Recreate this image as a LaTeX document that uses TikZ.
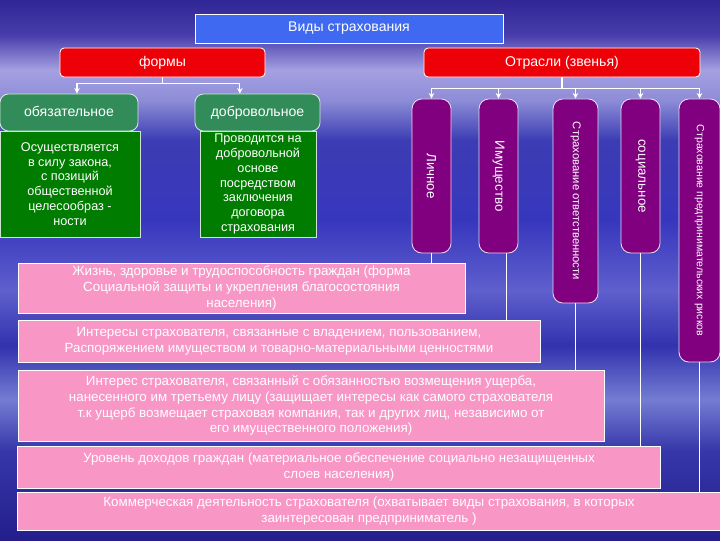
\documentclass[tikz,border=0pt]{standalone}
\usepackage{fontspec}
\setmainfont{Liberation Sans}
\usetikzlibrary{arrows.meta, positioning, calc}
\definecolor{myblue}{RGB}{62,105,240}
\definecolor{myred}{RGB}{238,0,8}
\definecolor{mygreen}{RGB}{50,140,90}
\definecolor{mydkgreen}{RGB}{0,125,0}
\definecolor{mypurple}{RGB}{128,0,128}
\definecolor{mypink}{RGB}{248,150,198}
\definecolor{sky0}{RGB}{35,30,140}
\definecolor{sky1}{RGB}{55,55,170}
\definecolor{sky2}{RGB}{115,125,210}
\definecolor{sky3}{RGB}{50,50,175}
\definecolor{sky4}{RGB}{95,95,205}
\definecolor{sky5}{RGB}{55,55,190}
\definecolor{sky6}{RGB}{60,60,180}
\definecolor{sky7}{RGB}{140,140,215}
\definecolor{sky8}{RGB}{165,160,225}
\definecolor{sky9}{RGB}{70,60,170}
\definecolor{sky10}{RGB}{48,38,150}
\pgfdeclareverticalshading{skybg}{100bp}{color(0bp)=(sky0); color(25bp)=(sky0);
  color(33.3bp)=(sky1); color(38bp)=(sky2); color(43bp)=(sky3); color(48.1bp)=(sky4);
  color(54.6bp)=(sky5); color(62bp)=(sky6); color(65.7bp)=(sky7); color(68.5bp)=(sky8);
  color(71.8bp)=(sky9); color(75bp)=(sky10); color(100bp)=(sky10)}
\tikzset{
  titlebox/.style={rectangle, draw=white, fill=myblue, text=white,
    minimum height=0.725cm, font=\fontsize{10}{12}\selectfont, line width=0.6pt},
  redbox/.style={rectangle, draw=white, fill=myred, text=white,
    minimum height=0.725cm, rounded corners=3pt, font=\fontsize{10}{12}\selectfont, line width=0.6pt},
  formbox/.style={rectangle, draw=white!80!mygreen, fill=mygreen, text=white,
    minimum height=0.925cm, text height=1.6ex, text depth=0.4ex, rounded corners=6pt,
    font=\fontsize{10}{12}\selectfont, line width=0.6pt},
  descbox/.style={rectangle, draw=white!80!mydkgreen, fill=mydkgreen, text=white, align=center,
    minimum height=2.65cm, inner sep=1pt, font=\fontsize{9}{10.6}\selectfont, line width=0.6pt},
  branch/.style={rectangle, rotate=-90, draw=white!85!mypurple, fill=mypurple, text=white,
    rounded corners=7pt, inner sep=1pt, font=\fontsize{9.5}{11}\selectfont, line width=0.6pt},
  pinkbox/.style={rectangle, draw=white, fill=mypink, text=white, align=center,
    inner sep=1pt, font=\fontsize{9.5}{11.3}\selectfont, line width=0.6pt},
  arrow/.style={-{Stealth[length=4pt, width=4pt]}, line width=0.8pt, color=white},
  line/.style={line width=0.8pt, color=white}
}
\begin{document}
\begin{tikzpicture}[x=0.025cm, y=-0.025cm]
  \useasboundingbox (0,0) rectangle (720,540);
  \shade [shading=skybg] (0,0) rectangle (720,540);

  \node [titlebox, minimum width=7.7cm] (vidy) at (349,28.5) {Виды страхования};
  \node [redbox, minimum width=5.125cm] (formy) at (162.5,62.5) {формы};
  \node [redbox, minimum width=6.9cm] (otrasli) at (562,62.5) {Отрасли (звенья)};

  % formy
  \node [formbox, minimum width=3.45cm] (obyaz) at (69,112.5) {обязательное};
  \node [formbox, minimum width=3.125cm] (dobrov) at (257.5,112.5) {добровольное};
  \node [descbox, minimum width=3.5cm] (osush) at (70,184)
    {Осуществляется\\в силу закона,\\с позиций\\общественной\\целесообраз -\\ности};
  \node [descbox, minimum width=2.9cm] (provod) at (258,184)
    {Проводится на\\добровольной\\основе\\посредством\\заключения\\договора\\страхования};

  % otrasli
  \node [branch, minimum width=3.85cm, minimum height=0.975cm] (lichnoe) at (431.5,176) {Личное};
  \node [branch, minimum width=3.85cm, minimum height=0.975cm] (imush) at (498.5,176) {Имущество};
  \node [branch, minimum width=5.1cm, minimum height=1.125cm, font=\fontsize{8}{9}\selectfont]
    (otvet) at (575.5,201) {Страхование ответственности};
  \node [branch, minimum width=3.85cm, minimum height=0.975cm] (social) at (640.5,176) {социальное};
  \node [branch, minimum width=6.575cm, minimum height=1.025cm, font=\fontsize{7.5}{9}\selectfont]
    (predpr) at (699.5,230.5) {Страхование предпринимательских рисков};

  \node [pinkbox, minimum width=11.175cm, minimum height=1.25cm] (zhizn) at (241.5,288)
    {Жизнь, здоровье и трудоспособность граждан (форма\\Социальной защиты и укрепления благосостояния\\населения)};
  \node [pinkbox, minimum width=13.05cm, minimum height=1.05cm] (interesy) at (279,341)
    {Интересы страхователя, связанные с владением, пользованием,\\Распоряжением имуществом и товарно-материальными ценностями};
  \node [pinkbox, minimum width=14.65cm, minimum height=1.775cm] (vozmesh) at (311,405.5)
    {Интерес страхователя, связанный с обязанностью возмещения ущерба,\\нанесенного им третьему лицу (защищает интересы как самого страхователя\\т.к ущерб возмещает страховая компания, так и других лиц, независимо от\\его имущественного положения)};
  \node [pinkbox, minimum width=16.05cm, minimum height=1.05cm] (dohody) at (339,467)
    {Уровень доходов граждан (материальное обеспечение социально незащищенных\\слоев населения)};
  \node [pinkbox, minimum width=17.55cm, minimum height=0.95cm] (kommerc) at (369,511)
    {Коммерческая деятельность страхователя (охватывает виды страхования, в которых\\заинтересован предприниматель )};

  \draw [arrow] (formy.south) -- ++(0,6) -| ([xshift=0.2cm]obyaz.north);
  \draw [arrow] (formy.south) -- ++(0,6) -| ([xshift=-0.44cm]dobrov.north);
  \foreach \b in {lichnoe, imush, otvet, social, predpr}
    \draw [arrow] (otrasli.south) -- ++(0,11) -| (\b.west);

  \draw [line] (lichnoe.east) -- (lichnoe.east |- zhizn.north);
  \draw [line] ([xshift=0.2cm]imush.east) -- ([xshift=0.2cm]imush.east |- interesy.north);
  \draw [line] (otvet.east) -- (otvet.east |- vozmesh.north);
  \draw [line] (social.east) -- (social.east |- dohody.north);
  \draw [line] (predpr.east) -- (predpr.east |- kommerc.north);
\end{tikzpicture}
\end{document}
